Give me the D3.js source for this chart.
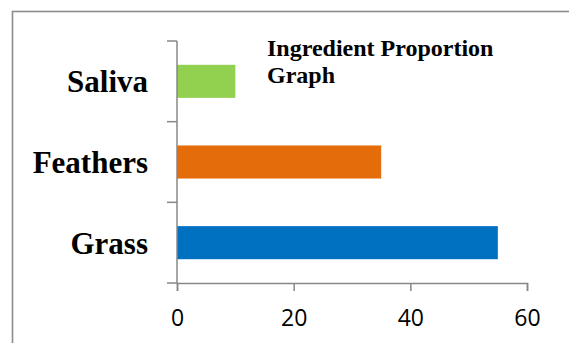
<!DOCTYPE html>
<html>
<head>
<meta charset="utf-8">
<script src="https://cdn.jsdelivr.net/npm/d3@7/dist/d3.min.js"></script>
<style>
  html, body { margin: 0; padding: 0; background: #fff; }
  svg { display: block; }
</style>
</head>
<body>
<script>
// Chart data
const categories = ["Saliva", "Feathers", "Grass"];
const values = [10, 35, 55];
const barColors = ["#92d050", "#e46c0a", "#0070c0"];
const xTicks = [0, 20, 40, 60];
const titleLines = ["Ingredient Proportion", "Graph"];

const W = 569, H = 343;
const svg = d3.select("body").append("svg").attr("width", W).attr("height", H);

// Outer chart frame (runs past the right and bottom edges)
svg.append("rect")
  .attr("x", 12.5).attr("y", 11.5)
  .attr("width", 600).attr("height", 400)
  .attr("fill", "none").attr("stroke", "#8c8c8c").attr("stroke-width", 1.6);

const plot = { left: 177, right: 527, top: 41, bottom: 283 };

const x = d3.scaleLinear().domain([0, 60]).range([plot.left, plot.right]);
const y = d3.scaleBand().domain(categories).range([plot.top, plot.bottom])
  .paddingInner(0.59).paddingOuter(0.295);
const yBand = d3.scaleBand().domain(categories).range([plot.top, plot.bottom]);

const axisColor = "#878787";

// Bars
svg.append("g").selectAll("rect")
  .data(categories)
  .join("rect")
  .attr("x", x(0))
  .attr("y", d => y(d))
  .attr("width", (d, i) => x(values[i]) - x(0))
  .attr("height", y.bandwidth())
  .attr("fill", (d, i) => barColors[i]);

// X axis
const xAxis = svg.append("g")
  .attr("transform", `translate(0,${plot.bottom})`)
  .call(d3.axisBottom(x).tickValues(xTicks).tickSize(8).tickSizeOuter(8).tickPadding(19));
xAxis.select(".domain").attr("stroke", axisColor).attr("stroke-width", 1.5);
xAxis.selectAll(".tick line").attr("stroke", axisColor).attr("stroke-width", 1.5);
xAxis.selectAll(".tick text")
  .attr("fill", "#000")
  .style("font-family", "'Open Sans', sans-serif")
  .style("font-size", "23px");

// Y axis: ticks at the band boundaries, labels centered in each band
const yAxisG = svg.append("g").attr("transform", `translate(${plot.left},0)`);
yAxisG.append("line")
  .attr("x1", 0).attr("x2", 0)
  .attr("y1", plot.top).attr("y2", plot.bottom)
  .attr("stroke", axisColor).attr("stroke-width", 1.5);
const boundaries = categories.map(c => yBand(c)).concat([plot.bottom]);
yAxisG.selectAll("line.tk")
  .data(boundaries)
  .join("line")
  .attr("class", "tk")
  .attr("x1", -10).attr("x2", 0)
  .attr("y1", d => d).attr("y2", d => d)
  .attr("stroke", axisColor).attr("stroke-width", 1.5);

svg.append("g").selectAll("text")
  .data(categories)
  .join("text")
  .attr("x", 148)
  .attr("y", d => yBand(d) + yBand.bandwidth() / 2)
  .attr("dy", "0.36em")
  .attr("text-anchor", "end")
  .style("font-family", "'Liberation Serif', 'Times New Roman', serif")
  .style("font-weight", "bold")
  .style("font-size", "31px")
  .attr("fill", "#000")
  .text(d => d);

// Title
svg.append("text")
  .attr("x", 267).attr("y", 56)
  .style("font-family", "'Liberation Serif', 'Times New Roman', serif")
  .style("font-weight", "bold")
  .style("font-size", "24px")
  .attr("fill", "#000")
  .selectAll("tspan")
  .data(titleLines)
  .join("tspan")
  .attr("x", 267)
  .attr("dy", (d, i) => i === 0 ? 0 : 27)
  .text(d => d);
</script>
</body>
</html>
